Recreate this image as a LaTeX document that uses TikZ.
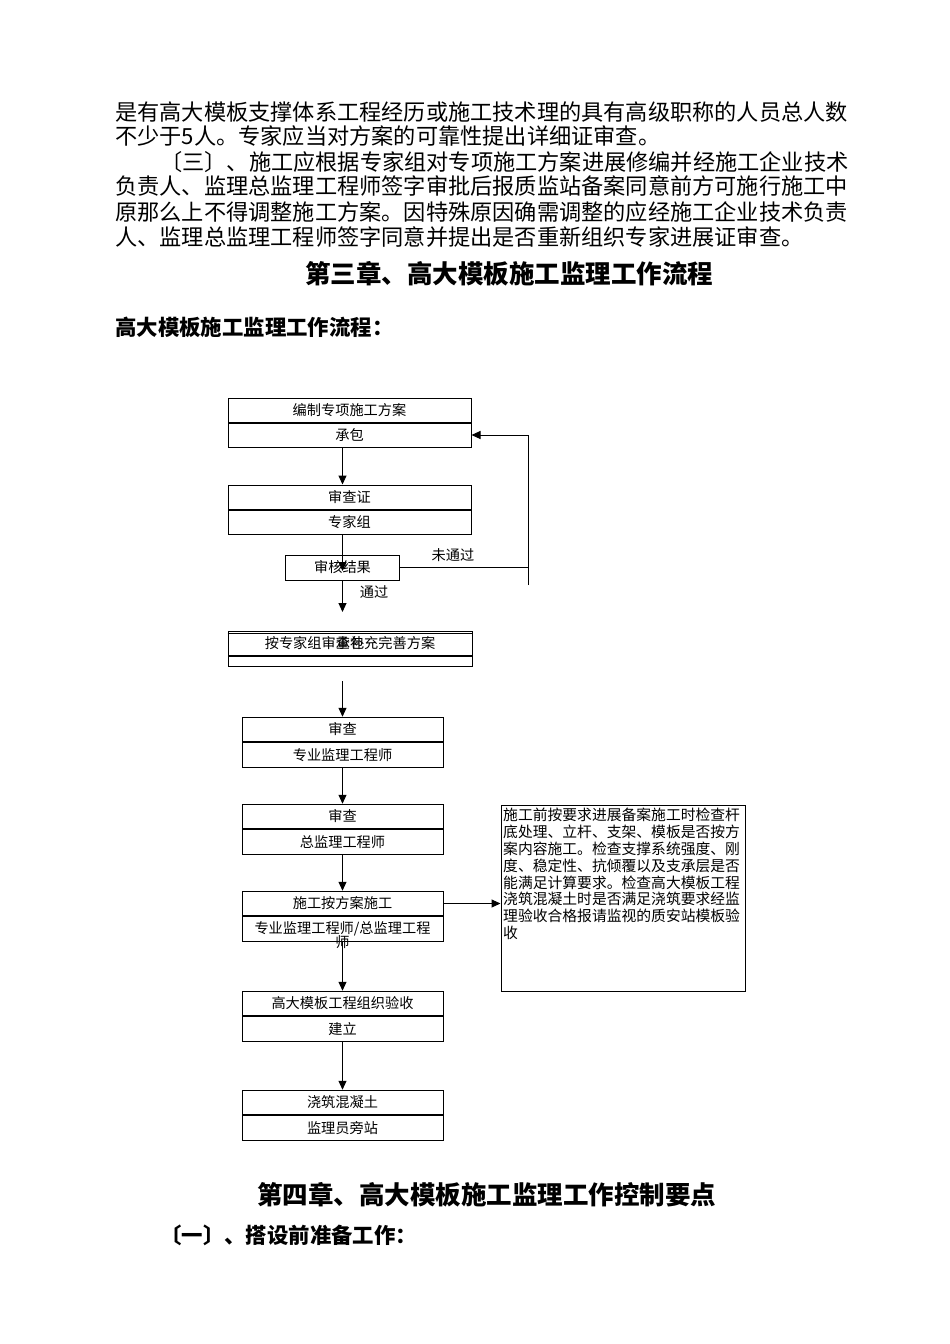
\documentclass[tikz,border=0pt]{standalone}
\usepackage{fontspec}
\setmainfont{Noto Sans CJK SC}
\usetikzlibrary{positioning, arrows.meta}

\begin{document}
\begin{tikzpicture}[
    x=1pt, y=-1pt,
    half/.style={
        rectangle,
        draw,
        line width=1pt,
        minimum width=201pt,
        minimum height=24.5pt,
        inner sep=0pt,
        font=\fontsize{14.2}{16}\selectfont
    },
    wide/.style={
        half,
        minimum width=243pt,
        minimum height=24pt
    },
    arrow/.style={
        line width=1pt,
        -{Triangle[length=9pt,width=8pt]}
    },
    body/.style={anchor=base west, inner sep=0pt, font=\fontsize{22.2}{25}\selectfont},
    head/.style={inner sep=0pt, font=\fontsize{25.5}{28}\selectfont\bfseries},
    sub/.style={anchor=base west, inner sep=0pt, font=\fontsize{21.4}{24}\selectfont\bfseries},
    lbl/.style={inner sep=0pt, font=\fontsize{14.2}{16}\selectfont}
]
\useasboundingbox (0,0) rectangle (950,1344);

% Text above

\node[body] (l1) at (115,120.4) {是有高大模板支撑体系工程经历或施工技术理的具有高级职称的人员总人数};
\node[body] (l2) at (115,144.5) {不少于5人。专家应当对方案的可靠性提出详细证审查。};
\node[body] (l3) at (160,170) {〔三〕、施工应根据专家组对专项施工方案进展修编并经施工企业技术};
\node[body] (l4) at (115,194.5) {负责人、监理总监理工程师签字审批后报质监站备案同意前方可施行施工中};
\node[body] (l5) at (115,220) {原那么上不得调整施工方案。因特殊原因确需调整的应经施工企业技术负责};
\node[body] (l6) at (115,245.5) {人、监理总监理工程师签字同意并提出是否重新组织专家进展证审查。};

\node[head] (ch3) at (509,274) {第三章、高大模板施工监理工作流程};
\node[sub] (flowtitle) at (115,335.2) {高大模板施工监理工作流程：};

% Flow boxes

\node[wide] (b1t) at (349.5,410) {编制专项施工方案};
\node[wide, below=0pt of b1t] (b1b) {承包};

\node[wide] (b2t) at (349.5,497) {审查证};
\node[wide, below=0pt of b2t] (b2b) {专家组};

\node[half, minimum width=114pt, minimum height=25pt] (b3) at (342.5,567.5) {审核结果};

\node[wide, minimum width=244pt] (b4t) at (350,643) {按专家组审查补充完善方案};
\node[wide, minimum width=244pt, minimum height=10pt, below=0pt of b4t] (b4b) {};
\node[lbl] (b4x) at (b4t) {承包};
\draw[line width=1pt] ([yshift=-3pt]b4t.north west) -- ([yshift=-3pt]b4t.north east);

\node[half] (b5t) at (342.5,729.5) {审查};
\node[half, below=0pt of b5t] (b5b) {专业监理工程师};

\node[half] (b6t) at (342.5,816.5) {审查};
\node[half, below=0pt of b6t] (b6b) {总监理工程师};

\node[half] (b7t) at (342.5,903.5) {施工按方案施工};
\node[half, below=0pt of b7t] (b7b) {专业监理工程师/总监理工程};
\node[lbl] (b7x) at (342.5,942) {师};

\node[half] (b8t) at (342.5,1003.5) {高大模板工程组织验收};
\node[half, below=0pt of b8t] (b8b) {建立};

\node[half] (b9t) at (342.5,1102.5) {浇筑混凝土};
\node[half, below=0pt of b9t] (b9b) {监理员旁站};

% Note box

\node[draw, line width=1pt, minimum width=244pt, minimum height=186pt, inner sep=0pt] (note) at (623,898) {};
\node[anchor=north west, inner sep=0pt, align=left, font=\fontsize{14.8}{16.8}\selectfont]
    (notetext) at ([xshift=2.5pt,yshift=-3.6pt]note.north west) {%
施工前按要求进展备案施工时检查杆\\
底处理、立杆、支架、模板是否按方\\
案内容施工。检查支撑系统强度、刚\\
度、稳定性、抗倾覆以及支承层是否\\
能满足计算要求。检查高大模板工程\\
浇筑混凝土时是否满足浇筑要求经监\\
理验收合格报请监视的质安站模板验\\
收};

% Labels

\node[lbl] (nopass) at (453,555) {未通过};
\node[lbl] (pass) at (374,592) {通过};

% Arrows

\coordinate (fb) at (528,585);
\coordinate (p1) at (342.5,612);
\coordinate (p2) at (342.5,681);

\draw[arrow] ([xshift=-7pt]b1b.south) -- ([xshift=-7pt]b2t.north);
\draw[arrow] ([xshift=-7pt]b2b.south) -- ([yshift=-3.5pt]b3.center);
\draw[line width=1pt] (b3.east) -- (b3.east -| fb);
\draw[arrow] (fb) |- (b1b.east);
\draw[arrow] (b3.south) -- (p1);
\draw[arrow] (p2) -- (b5t.north);
\draw[arrow] (b5b.south) -- (b6t.north);
\draw[arrow] (b6b.south) -- (b7t.north);
\draw[arrow] (b7t.east) -- (note.west |- b7t.east);
\draw[arrow] (b7b.south) -- (b8t.north);
\draw[arrow] (b8b.south) -- (b9t.north);

% Text below

\node[head] (ch4) at (486.5,1195) {第四章、高大模板施工监理工作控制要点};
\node[sub] (sec1) at (160,1243) {〔一〕、搭设前准备工作：};

\end{tikzpicture}
\end{document}
